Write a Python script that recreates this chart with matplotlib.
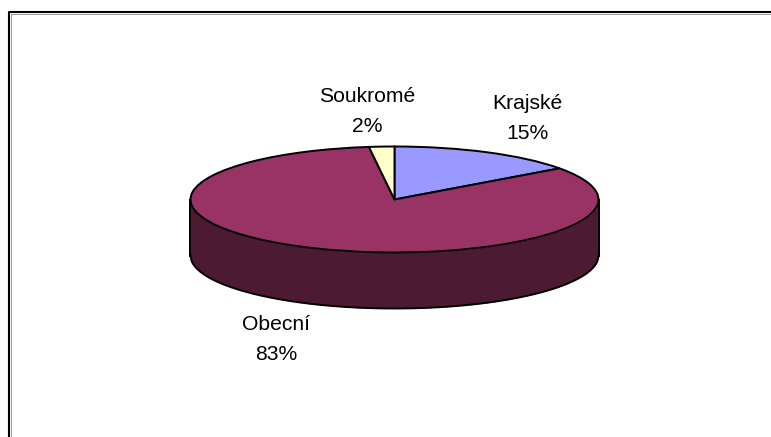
import numpy as np
import matplotlib
matplotlib.use("Agg")
import matplotlib.pyplot as plt

labels = ["Krajské", "Obecní", "Soukromé"]
values = [15, 83, 2]
percent_labels = ["15%", "83%", "2%"]
top_colors = ["#9999FF", "#993366", "#FFFFCC"]
side_color = "#4D1A33"

W, H = 771, 437
cx, cy, rx, ry, depth = 394.5, 199.5, 204.0, 53.0, 56.0
plt.rcParams["font.family"] = ["Liberation Sans", "DejaVu Sans"]

fig = plt.figure(figsize=(W / 100, H / 100), dpi=100)
fig.patch.set_facecolor("white")
ax = fig.add_axes([0, 0, 1, 1])

# frame in pixel coordinates (display y runs upward), with a soft grey inner edge
fig.add_artist(plt.Line2D([10.5, 10.5, 771], [0, H - 13.5, H - 13.5],
                          transform=None, color="#999999", lw=0.7,
                          solid_capstyle="butt"))
fig.add_artist(plt.Line2D([9, 9, 771], [0, H - 12, H - 12],
                          transform=None, color="black", lw=1.5,
                          solid_capstyle="butt"))

ax.pie(values, colors=top_colors, startangle=90, counterclock=False,
       radius=1.0, wedgeprops=dict(edgecolor="black", linewidth=1.4, zorder=5))
ax.set_aspect("auto")
ax.set_xlim((0 - cx) / rx, (W - cx) / rx)
ax.set_ylim((cy - H) / ry, cy / ry)

x = np.linspace(-1, 1, 400)
d = depth / ry
lower = -np.sqrt(1 - x ** 2)
ax.fill_between(x, lower - d, lower, color=side_color, zorder=2, linewidth=0)
ax.plot(x, lower - d, color="black", lw=1.4, zorder=3)
ax.plot([-1, -1], [0, -d], color="black", lw=1.4, zorder=3)
ax.plot([1, 1], [0, -d], color="black", lw=1.4, zorder=3)

label_px = {"Krajské": (527, 118.5), "Obecní": (276, 339.5), "Soukromé": (367, 111.5)}
for lab, pct in zip(labels, percent_labels):
    px, py = label_px[lab]
    fig.text(px / W, 1 - py / H, f"{lab}\n{pct}", ha="center", va="center",
             fontsize=15.2, color="black", linespacing=1.7)

fig.savefig("out.png", dpi=100)
